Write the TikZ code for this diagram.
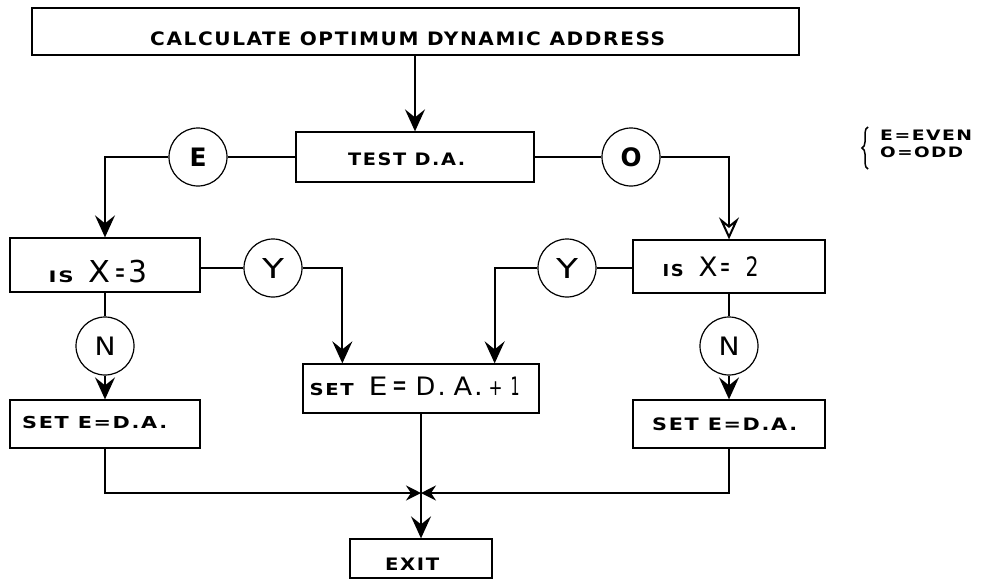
\documentclass[tikz,border=0pt]{standalone}
\usepackage{fontspec}
\usepackage{graphicx}
\setmainfont{DejaVu Sans}
\newfontfamily\lsf[LetterSpace=8]{DejaVu Sans}
\usetikzlibrary{arrows.meta,decorations.pathreplacing}
\makeatletter
\newsavebox\fitbox
% #1 target width, #2 cap height, #3 text
\newcommand\fitt[3]{{\lsf\fontsize{\fpeval{#2/0.729}}{\fpeval{#2/0.729}}\selectfont\sbox\fitbox{#3}\scalebox{\fpeval{#1/\strip@pt\wd\fitbox}}[1]{\usebox\fitbox}}}
\makeatother
\newcommand\pc[4]{\rlap{\kern#1pt\fitt{#2}{#3}{#4}}}
\newcommand\bpc[4]{\rlap{\kern#1pt\bfseries\fitt{#2}{#3}{#4}}}
\tikzset{
  box/.style={draw, line width=1.3pt, rectangle, inner sep=0pt},
  circ/.style={draw, circle, line width=1.2pt, minimum size=58pt, inner sep=0pt},
  txt/.style={anchor=base west, inner sep=0pt},
  btxt/.style={txt, font=\bfseries},
  conn/.style={line width=2pt},
  arr/.style={line width=2pt, -{Stealth[length=22pt,width=20pt,inset=8pt]}},
  oarr/.style={line width=2pt, -{Stealth[open,length=22pt,width=20pt,inset=8pt]}},
  jarr/.style={line width=2pt, -{Stealth[length=15pt,width=15pt,inset=5pt]}},
}
\begin{document}
\begin{tikzpicture}[x=1pt,y=-1pt]
\useasboundingbox (0,0) rectangle (993,582);
% boxes
\node[box, minimum width=767pt, minimum height=47pt] (top) at (415.5,31.5) {};
\node[box, minimum width=238pt, minimum height=50pt] (test) at (415,157) {};
\node[box, minimum width=190pt, minimum height=54pt] (isx3) at (105,265) {};
\node[box, minimum width=192pt, minimum height=53pt] (isx2) at (729,266.5) {};
\node[box, minimum width=236pt, minimum height=49pt] (set1) at (421,388.5) {};
\node[box, minimum width=190pt, minimum height=48pt] (setL) at (105,424) {};
\node[box, minimum width=192pt, minimum height=48pt] (setR) at (729,424) {};
\node[box, minimum width=142pt, minimum height=39pt] (exit) at (421,558.5) {};
% texts
\node[btxt] (topt) at (150,45) {\fitt{515}{13.5}{CALCULATE OPTIMUM DYNAMIC ADDRESS}};
\node[btxt] (testt) at (348,165) {\fitt{117}{12.5}{TEST D.A.}};
\node[txt] (isx3t) at (48,282) {\bpc{0}{25}{11.5}{IS}\pc{40}{22}{22}{X}\pc{67}{10}{22}{=}\pc{80}{19}{22}{3}};
\node[txt] (isx2t) at (662,276) {\bpc{0}{21}{12}{IS}\pc{36}{19}{19.5}{X}\pc{58}{10}{21}{=}\pc{83}{13}{19.5}{2}};
\node[txt] (set1t) at (309,395) {\bpc{0}{44}{12}{SET}\pc{59}{19}{18.5}{E}\pc{83}{15}{22}{=}\pc{106}{30}{18.5}{D.}\pc{144}{29}{18.5}{A.}\pc{179}{14}{16}{+}\pc{201}{9}{18.5}{1}};
\node[btxt] (setLt) at (22,428) {\fitt{145}{12}{SET E=D.A.}};
\node[btxt] (setRt) at (652,430) {\fitt{145}{12.5}{SET E=D.A.}};
\node[btxt] (exitt) at (385,570) {\fitt{54}{12.5}{EXIT}};
% circles
\node[circ] (E) at (198,157) {\bfseries\fitt{17}{18.5}{E}};
\node[circ] (O) at (631,157) {\bfseries\fitt{21}{18.5}{O}};
\node[circ] (YL) at (273,268) {\fitt{22}{20}{Y}};
\node[circ] (YR) at (567,268) {\fitt{22}{20}{Y}};
\node[circ] (NL) at (105,346) {\fitt{21}{18.5}{N}};
\node[circ] (NR) at (729,346) {\fitt{21}{18.5}{N}};
% legend
\node[btxt] (leg1) at (880,140) {\fitt{92}{10.5}{E=EVEN}};
\node[btxt] (leg2) at (880,157) {\fitt{83}{10.5}{O=ODD}};
\draw[line width=1.5pt, decorate, decoration={brace, amplitude=6pt}] (868,169) -- (868,127);
% connectors
\coordinate (J) at (421,493);
\draw[arr] (test.north |- top.south) -- (test.north);
\draw[conn] (test.west) -- (E.east);
\draw[arr] (E.west) -| (isx3.north);
\draw[conn] (test.east) -- (O.west);
\draw[oarr] (O.east) -| (isx2.north);
\draw[conn] (YL.west) -- (YL.west -| isx3.east);
\draw[arr] (YL.east) -| ([xshift=40pt]set1.north west);
\draw[conn] (YR.east) -- (YR.east -| isx2.west);
\draw[arr] (YR.west) -| ([xshift=-45pt]set1.north east);
\draw[conn] (isx3.south) -- (NL.north);
\draw[arr] (NL.south) -- (setL.north);
\draw[conn] (isx2.south) -- (NR.north);
\draw[arr] (NR.south) -- (setR.north);
\draw[jarr] (setL.south) |- (J);
\draw[jarr] (setR.south) |- (J);
\draw[arr] (set1.south) -- (exit.north);
\end{tikzpicture}
\end{document}
